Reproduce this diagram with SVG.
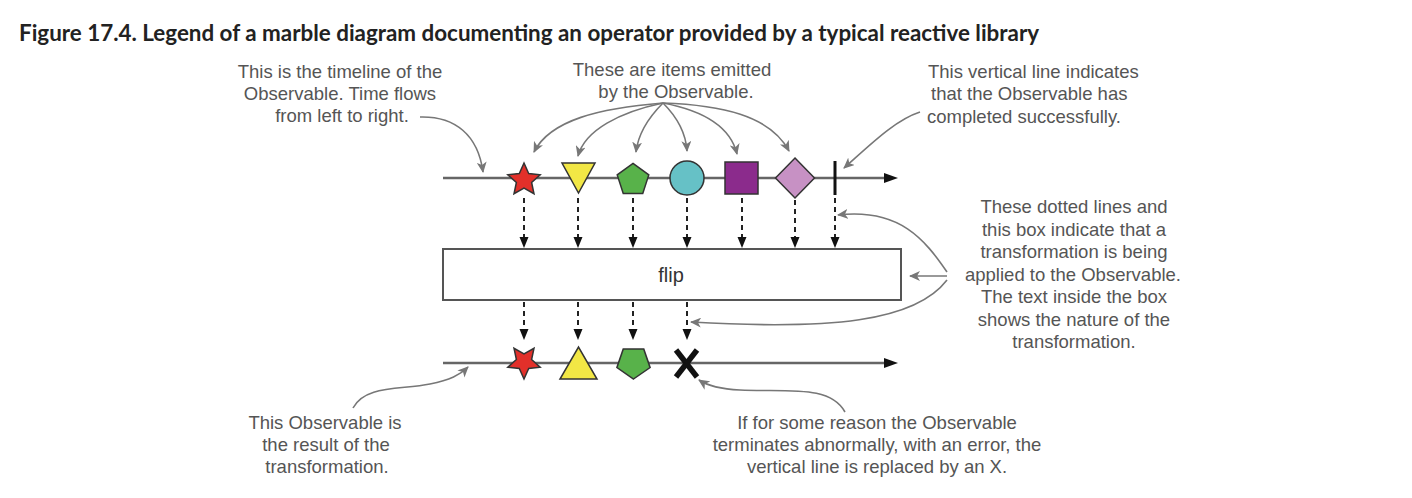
<svg xmlns="http://www.w3.org/2000/svg" width="1412" height="498" viewBox="0 0 1412 498">
<style>
.title{font-family:Lato,"Liberation Sans",sans-serif;font-weight:bold;font-size:22.4px;fill:#222}
.note{font-family:"Liberation Sans",Arial,sans-serif;font-size:18.5px;fill:#555}
.mid{text-anchor:middle}
.tl{stroke:#666;stroke-width:2.5;fill:none}
.dot{stroke:#222;stroke-width:2;stroke-dasharray:5 4;fill:none}
.call{stroke:#777;stroke-width:1.6;fill:none;marker-end:url(#ga)}
.shp{stroke:#333;stroke-width:1.5}
.ah{fill:#111}
</style>
<defs>
<marker id="ga" markerWidth="12" markerHeight="10" refX="10" refY="5" orient="auto" markerUnits="userSpaceOnUse">
<path d="M0,0 L11,5 L0,10 L3,5 Z" fill="#777"/>
</marker>
<polygon id="star" points="0,-17 4.7,-6.47 16.17,-5.25 7.61,2.47 9.99,13.75 0,8 -9.99,13.75 -7.61,2.47 -16.17,-5.25 -4.7,-6.47"/>
<polygon id="pent" points="0,-16.6 15.79,-5.13 9.76,13.43 -9.76,13.43 -15.79,-5.13"/>
<path id="dhead" d="M-4.5,-11 L4.5,-11 L0,0 Z"/>
</defs>
<rect width="1412" height="498" fill="#fff"/>
<text class="title" x="19" y="41">Figure 17.4. Legend of a marble diagram documenting an operator provided by a typical reactive library</text>

<g id="connectors">
<line class="tl" x1="443" y1="178" x2="886" y2="178"/>
<polygon class="ah" points="884,173 898,178 884,183"/>
<line class="tl" x1="443" y1="363" x2="886" y2="363"/>
<polygon class="ah" points="884,358 898,363 884,368"/>
<g>
<line class="dot" x1="524" y1="198" x2="524" y2="238"/><use href="#dhead" x="524" y="248" class="ah"/>
<line class="dot" x1="578" y1="198" x2="578" y2="238"/><use href="#dhead" x="578" y="248" class="ah"/>
<line class="dot" x1="633" y1="198" x2="633" y2="238"/><use href="#dhead" x="633" y="248" class="ah"/>
<line class="dot" x1="687" y1="198" x2="687" y2="238"/><use href="#dhead" x="687" y="248" class="ah"/>
<line class="dot" x1="742" y1="198" x2="742" y2="238"/><use href="#dhead" x="742" y="248" class="ah"/>
<line class="dot" x1="795" y1="200" x2="795" y2="238"/><use href="#dhead" x="795" y="248" class="ah"/>
<line class="dot" x1="835" y1="198" x2="835" y2="238"/><use href="#dhead" x="835" y="248" class="ah"/>
</g>
<g>
<line class="dot" x1="524" y1="302" x2="524" y2="330"/><use href="#dhead" x="524" y="340" class="ah"/>
<line class="dot" x1="578" y1="302" x2="578" y2="330"/><use href="#dhead" x="578" y="340" class="ah"/>
<line class="dot" x1="633" y1="302" x2="633" y2="330"/><use href="#dhead" x="633" y="340" class="ah"/>
<line class="dot" x1="687" y1="302" x2="687" y2="330"/><use href="#dhead" x="687" y="340" class="ah"/>
</g>
<path class="call" d="M420,117 C455,116 478,135 483,172"/>
<path class="call" d="M663,103 C600,108 550,120 534,152"/>
<path class="call" d="M663,103 C620,112 585,130 578,156"/>
<path class="call" d="M663,103 C648,118 638,135 636,152"/>
<path class="call" d="M663,103 C678,118 686,135 687,151"/>
<path class="call" d="M663,103 C700,110 730,125 737,154"/>
<path class="call" d="M663,103 C720,105 770,115 789,151"/>
<path class="call" d="M920,112 C895,120 870,145 844,168"/>
<path class="call" d="M947,272 C925,240 900,208 838,215"/>
<path class="call" d="M947,276 L910,276"/>
<path class="call" d="M947,280 C915,322 830,330 691,322"/>
<path class="call" d="M353,408 C365,385 400,390 430,384 C450,380 460,375 468,367"/>
<path class="call" d="M845,412 C830,385 790,392 740,390 C720,389 708,386 699,380"/>
</g>

<g id="top-items">
<use href="#star" x="524" y="180" fill="#e2302a" class="shp"/>
<polygon points="562,163 595,163 578.5,193" fill="#f2e745" class="shp"/>
<use href="#pent" x="633" y="180" fill="#58b24a" class="shp"/>
<circle cx="687" cy="178" r="17" fill="#66c1c6" class="shp"/>
<rect x="725" y="162" width="33" height="32" fill="#8b2b8c" class="shp"/>
<polygon points="795,158 814.5,178 795,198 775.5,178" fill="#c791c4" class="shp"/>
<line x1="835" y1="161" x2="835" y2="195" stroke="#111" stroke-width="3"/>
</g>

<g id="flip-box">
<rect x="443" y="249" width="458" height="51" fill="#fff" stroke="#555" stroke-width="2"/>
<text x="671" y="282" text-anchor="middle" font-family="'Liberation Sans',Arial,sans-serif" font-size="20" fill="#333">flip</text>
</g>

<g id="bottom-items">
<use href="#star" transform="translate(524,362) scale(1,-1)" fill="#e2302a" class="shp"/>
<polygon points="560,379 597,379 578.5,347" fill="#f2e745" class="shp"/>
<use href="#pent" transform="translate(633.5,362.4) scale(1.05,-1)" fill="#58b24a" class="shp"/>
<g stroke="#111" stroke-width="5.5" stroke-linecap="butt">
<line x1="676" y1="350" x2="697" y2="377"/>
<line x1="697" y1="350" x2="676" y2="377"/>
</g>
</g>

<g id="note-timeline">
<text class="note mid" x="340" y="78">This is the timeline of the</text>
<text class="note mid" x="340" y="100">Observable. Time flows</text>
<text class="note mid" x="342" y="122">from left to right.</text>
</g>
<g id="note-items">
<text class="note mid" x="672" y="76">These are items emitted</text>
<text class="note mid" x="676" y="98">by the Observable.</text>
</g>
<g id="note-complete">
<text class="note" x="928" y="78">This vertical line indicates</text>
<text class="note" x="931" y="100">that the Observable has</text>
<text class="note" x="927" y="123">completed successfully.</text>
</g>
<g id="note-transform">
<text class="note mid" x="1074" y="213">These dotted lines and</text>
<text class="note mid" x="1074" y="235.5">this box indicate that a</text>
<text class="note mid" x="1074" y="258">transformation is being</text>
<text class="note mid" x="1073" y="280.5">applied to the Observable.</text>
<text class="note mid" x="1074" y="303">The text inside the box</text>
<text class="note mid" x="1074" y="325.5">shows the nature of the</text>
<text class="note mid" x="1074" y="348">transformation.</text>
</g>
<g id="note-result">
<text class="note mid" x="325" y="429">This Observable is</text>
<text class="note mid" x="326" y="451">the result of the</text>
<text class="note mid" x="327" y="473">transformation.</text>
</g>
<g id="note-error">
<text class="note mid" x="877" y="429">If for some reason the Observable</text>
<text class="note mid" x="877" y="451">terminates abnormally, with an error, the</text>
<text class="note mid" x="877" y="473">vertical line is replaced by an X.</text>
</g>
</svg>
